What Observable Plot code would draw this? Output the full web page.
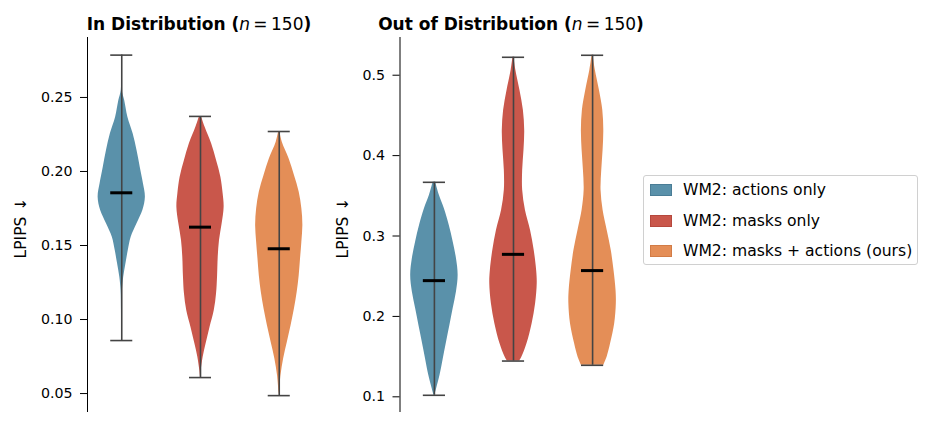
<!DOCTYPE html>
<html>
<head>
<meta charset="utf-8">
<script src="https://cdn.jsdelivr.net/npm/d3@7"></script>
<script src="https://cdn.jsdelivr.net/npm/@observablehq/plot@0.6"></script>
<style>
  html, body { margin: 0; padding: 0; background: #fff; }
  body { width: 935px; height: 428px; position: relative; overflow: hidden;
         font-family: "DejaVu Sans", sans-serif; color: #000; }
  .panel { position: absolute; top: 0; }
  .title { position: absolute; top: 14px; transform: translateX(-50%); white-space: nowrap;
           font-size: 17px; font-weight: bold; line-height: normal; }
  .title .m { font-weight: normal; }
  .ylab { position: absolute; white-space: nowrap; font-size: 15.5px;
          transform: translate(-50%, -50%) rotate(-90deg); }
  .ylab .arr { margin-left: 6px; }
  .legend { position: absolute; left: 643px; top: 175px; width: 275px; height: 90px;
            border: 1px solid #d0d0d0; border-radius: 3px; box-sizing: border-box; }
  .legend .row { position: absolute; left: 6px; height: 14px; display: flex; align-items: center;
                 font-size: 15.6px; white-space: nowrap; }
  .legend .sw { width: 22px; height: 12px; margin-right: 11px; box-sizing: border-box; }
</style>
</head>
<body>
<div id="left" class="panel" style="left:0"></div>
<div id="right" class="panel" style="left:330px"></div>
<div class="title" style="left:199px">In Distribution (<span class="m"><i>n</i>&#8201;=&#8201;150</span>)</div>
<div class="title" style="left:511px">Out of Distribution (<span class="m"><i>n</i>&#8201;=&#8201;150</span>)</div>
<div class="ylab" style="left:21px; top:228px">LPIPS<span class="arr">↓</span></div>
<div class="ylab" style="left:343px; top:228px">LPIPS<span class="arr">↓</span></div>
<div class="legend" id="legend"></div>
<script>
// Methods compared, in plotting order
const categories = ["WM2: actions only", "WM2: masks only", "WM2: masks + actions (ours)"];
const colors = ["#5a91aa", "#c9574b", "#e48e57"];
const positions = [1, 2, 3];

// In-distribution summary statistics (LPIPS)
const inMin = [0.0858, 0.0608, 0.0486];
const inMax = [0.2786, 0.2372, 0.2270];
const inMedian = [0.1856, 0.1624, 0.1478];

// Out-of-distribution summary statistics (LPIPS)
const outMin = [0.1019, 0.1445, 0.1392];
const outMax = [0.3668, 0.5223, 0.5248];
const outMedian = [0.2445, 0.2772, 0.2570];

// Kernel density outlines: LPIPS values and relative density at each value
const inActionsV = [0.2786, 0.2547, 0.2480, 0.2367, 0.2255, 0.2142, 0.2029, 0.1917, 0.1826, 0.1736, 0.1647, 0.1556, 0.1466, 0.1376, 0.1286, 0.1196, 0.1060, 0.0858];
const inActionsD = [0, 0.5, 3, 6.3, 11.7, 15.7, 19, 22.3, 24.3, 21.7, 15.7, 9.7, 6.7, 4.3, 2, 0.7, 0.3, 0];
const inMasksV = [0.2372, 0.2299, 0.2187, 0.2074, 0.1961, 0.1849, 0.1759, 0.1647, 0.1534, 0.1421, 0.1286, 0.1174, 0.1061, 0.0948, 0.0836, 0.0745, 0.0655, 0.0608];
const inMasksD = [1, 4.7, 11.3, 16.3, 20.7, 23, 24, 22, 19.3, 18, 17.3, 16.3, 14, 9.7, 5.7, 2.7, 0.7, 0];
const inBothV = [0.2270, 0.2198, 0.2086, 0.1973, 0.1860, 0.1748, 0.1635, 0.1522, 0.1410, 0.1297, 0.1184, 0.1072, 0.0959, 0.0847, 0.0734, 0.0622, 0.0486];
const inBothD = [0.5, 3, 9.7, 15, 19.7, 22.3, 23.3, 22.3, 21, 19.7, 17.7, 15, 11.7, 8, 4.3, 1.7, 0];

const outActionsV = [0.3668, 0.3506, 0.3341, 0.3133, 0.2925, 0.2719, 0.2511, 0.2303, 0.2097, 0.1889, 0.1682, 0.1475, 0.1268, 0.1102, 0.1019];
const outActionsD = [1.3, 5, 10, 15, 19, 22.3, 24, 22.3, 19, 15.7, 12.3, 9, 5.7, 2.3, 0.5];
const outMasksV = [0.5223, 0.5061, 0.4812, 0.4563, 0.4315, 0.4066, 0.3817, 0.3568, 0.3320, 0.3071, 0.2822, 0.2573, 0.2408, 0.2159, 0.1910, 0.1662, 0.1495, 0.1445];
const outMasksD = [0.5, 2.3, 6.3, 9.7, 11, 10.3, 9, 9, 11.7, 16.7, 20.3, 22.7, 23.3, 21.7, 18.3, 13.3, 8.3, 6];
const outBothV = [0.5248, 0.5061, 0.4812, 0.4563, 0.4315, 0.4066, 0.3817, 0.3568, 0.3320, 0.3071, 0.2822, 0.2573, 0.2325, 0.2159, 0.1910, 0.1662, 0.1495, 0.1392];
const outBothD = [0.5, 2.7, 6.7, 10, 11, 10.3, 9, 8.3, 10.3, 14.3, 18.3, 21, 23, 23.3, 21.7, 17.7, 14.3, 11];

// Axis ticks
const inTicks = [0.05, 0.10, 0.15, 0.20, 0.25];
const outTicks = [0.1, 0.2, 0.3, 0.4, 0.5];

const xDomain = [0.565, 3.435];
const halfWidth = 0.3;   // widest point of each violin, in x units
const capHalf = 0.14;    // half-length of whisker caps and median bars

function violinRows(profiles) {
  return profiles.flatMap(([vals, dens], i) => {
    const m = d3.max(dens);
    return vals.map((v, j) => ({v, w: dens[j] / m, pos: positions[i], cat: categories[i]}));
  });
}

function statRows(mins, maxs, meds) {
  return categories.map((c, i) => ({cat: c, pos: positions[i], min: mins[i], max: maxs[i], median: meds[i]}));
}

function violinChart({rows, stats, yDomain, ticks, fmt, width, marginLeft, marginRight}) {
  return Plot.plot({
    width, height: 428,
    marginLeft, marginRight, marginTop: 37, marginBottom: 16,
    style: {fontFamily: "DejaVu Sans, sans-serif", fontSize: "14.2px", color: "#000", background: "transparent"},
    x: {domain: xDomain, axis: null},
    y: {domain: yDomain, ticks, tickFormat: fmt, tickSize: 7, tickPadding: 8, label: null},
    color: {domain: categories, range: colors},
    marks: [
      Plot.areaX(rows, {
        y: "v",
        x1: d => d.pos - d.w * halfWidth,
        x2: d => d.pos + d.w * halfWidth,
        fill: "cat", curve: "catmull-rom"
      }),
      Plot.ruleX(stats, {x: "pos", y1: "min", y2: "max", stroke: "#444", strokeWidth: 1.6}),
      Plot.ruleY(stats, {y: "max", x1: d => d.pos - capHalf, x2: d => d.pos + capHalf, stroke: "#444", strokeWidth: 1.6}),
      Plot.ruleY(stats, {y: "min", x1: d => d.pos - capHalf, x2: d => d.pos + capHalf, stroke: "#444", strokeWidth: 1.6}),
      Plot.ruleY(stats, {y: "median", x1: d => d.pos - capHalf, x2: d => d.pos + capHalf, stroke: "#000", strokeWidth: 3}),
      Plot.ruleX([xDomain[0]], {stroke: "#000", strokeWidth: 1})
    ]
  });
}

document.getElementById("left").append(violinChart({
  rows: violinRows([[inActionsV, inActionsD], [inMasksV, inMasksD], [inBothV, inBothD]]),
  stats: statRows(inMin, inMax, inMedian),
  yDomain: [0.0372, 0.2905], ticks: inTicks, fmt: ".2f",
  width: 330, marginLeft: 87, marginRight: 17
}));

document.getElementById("right").append(violinChart({
  rows: violinRows([[outActionsV, outActionsD], [outMasksV, outMasksD], [outBothV, outBothD]]),
  stats: statRows(outMin, outMax, outMedian),
  yDomain: [0.0805, 0.5469], ticks: outTicks, fmt: ".1f",
  width: 310, marginLeft: 69.5, marginRight: 13.5
}));

// Legend entries
const legend = document.getElementById("legend");
const edges = ["#4a7d96", "#b6483d", "#d27c46"];
categories.forEach((c, i) => {
  const row = document.createElement("div");
  row.className = "row";
  row.style.top = (7 + i * 30.5) + "px";
  const sw = document.createElement("span");
  sw.className = "sw";
  sw.style.background = colors[i];
  sw.style.border = "1px solid " + edges[i];
  const t = document.createElement("span");
  t.textContent = c;
  row.append(sw, t);
  legend.append(row);
});
</script>
</body>
</html>
